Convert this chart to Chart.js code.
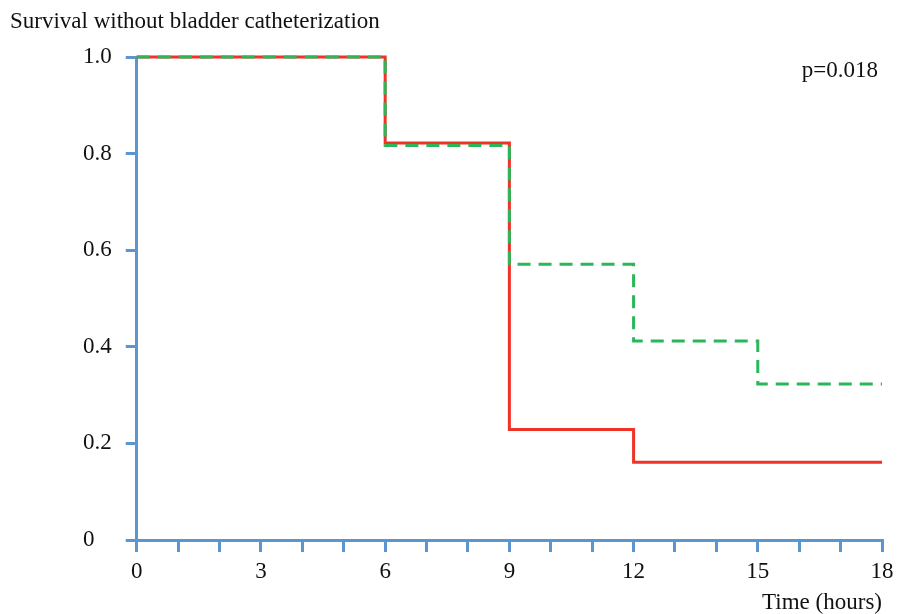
<!DOCTYPE html>
<html>
<head>
<meta charset="utf-8">
<script src="https://cdn.jsdelivr.net/npm/chart.js@4.4.1/dist/chart.umd.min.js"></script>
<style>
  html, body { margin: 0; padding: 0; background: #fff; }
  #wrap { width: 903px; height: 614px; position: relative; }
</style>
</head>
<body>
<div id="wrap"><canvas id="kmChart"></canvas></div>
<script>
// step start times (hours) and survival values
const timesRed = [0, 6, 9, 12, 18];
const survRed = [1.0, 0.822, 0.229, 0.161, 0.161];

const timesGreen = [0, 6, 9, 12, 15, 18];
const survGreen = [1.0, 0.817, 0.571, 0.412, 0.323, 0.323];

const yTicks = [0, 0.2, 0.4, 0.6, 0.8, 1.0];
const xLabelEvery = 3;

const chartTitle = "Survival without bladder catheterization";
const pValueText = "p=0.018";
const xTitle = "Time (hours)";

const axisBlue = "#5b96d0";
const serif = "'Liberation Serif', 'Times New Roman', serif";

function toPoints(xs, ys) {
    return xs.map((x, i) => ({ x: x, y: ys[i] }));
}

const textPlugin = {
    id: "textPlugin",
    afterDraw(chart) {
        const ctx = chart.ctx;
        ctx.save();
        ctx.fillStyle = "#111";
        ctx.textBaseline = "alphabetic";
        ctx.font = "23px " + serif;
        ctx.textAlign = "left";
        ctx.fillText(chartTitle, 10, 28);
        ctx.textAlign = "right";
        ctx.fillText(pValueText, 878, 77);
        ctx.restore();
    }
};

const ctx = document.getElementById("kmChart").getContext("2d");

new Chart(ctx, {
    type: "line",
    data: {
        datasets: [
            {
                label: "green",
                data: toPoints(timesGreen, survGreen),
                borderColor: "#2bb65a",
                borderWidth: 3,
                borderDash: [13, 8],
                stepped: true,
                pointRadius: 0,
                fill: false,
                clip: false,
                order: 0
            },
            {
                label: "red",
                data: toPoints(timesRed, survRed),
                borderColor: "#ef3327",
                borderWidth: 3,
                stepped: true,
                pointRadius: 0,
                fill: false,
                clip: false,
                order: 1
            }
        ]
    },
    options: {
        responsive: true,
        maintainAspectRatio: false,
        animation: false,
        layout: {
            padding: { left: 83, right: 21, top: 57, bottom: 0 }
        },
        plugins: {
            legend: { display: false },
            tooltip: { enabled: false }
        },
        scales: {
            x: {
                type: "linear",
                min: 0,
                max: 18,
                grid: {
                    drawOnChartArea: false,
                    tickLength: 12,
                    tickColor: axisBlue,
                    lineWidth: 3
                },
                border: { color: axisBlue, width: 3 },
                ticks: {
                    stepSize: 1,
                    autoSkip: false,
                    maxRotation: 0,
                    padding: 8,
                    color: "#111",
                    font: { family: serif, size: 23, lineHeight: 1 },
                    callback: v => (v % xLabelEvery === 0 ? String(v) : "")
                },
                title: {
                    display: true,
                    text: xTitle,
                    align: "end",
                    color: "#111",
                    font: { family: serif, size: 23, lineHeight: 1 },
                    padding: { top: 0, bottom: 0 }
                }
            },
            y: {
                min: 0,
                max: 1,
                afterBuildTicks: axis => {
                    axis.ticks = yTicks.map(v => ({ value: v }));
                },
                grid: {
                    drawOnChartArea: false,
                    tickLength: 11,
                    tickColor: axisBlue,
                    lineWidth: 3
                },
                border: { color: axisBlue, width: 3 },
                ticks: {
                    crossAlign: "far",
                    padding: 7,
                    color: "#111",
                    font: { family: serif, size: 23 },
                    callback: v => (v === 0 ? "0" : v.toFixed(1))
                }
            }
        }
    },
    plugins: [textPlugin]
});
</script>
</body>
</html>
